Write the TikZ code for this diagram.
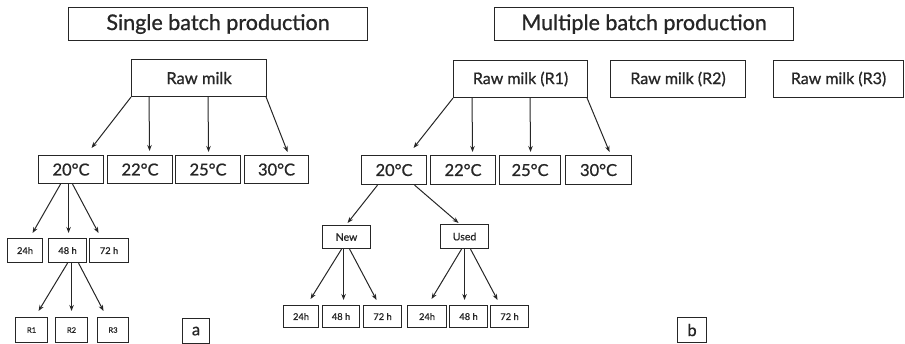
\documentclass[tikz,border=0pt]{standalone}
\usepackage{fontspec}
\setmainfont{Lato}[FakeBold=0.9]
\usetikzlibrary{arrows.meta,calc}
\begin{document}
\begin{tikzpicture}[x=1pt,y=-1pt,
  box/.style={draw=black!85,line width=1.1pt,inner sep=0pt,anchor=north west,text=black!85},
  arr/.style={line width=1pt,draw=black!85,-{Stealth[length=6pt,width=4.5pt]}},
  ttl/.style={font=\fontsize{21.5}{23}\selectfont},
  big/.style={font=\fontsize{16.5}{18}\selectfont},
  mid/.style={font=\fontsize{16}{17}\selectfont},
  sml/.style={font=\fontsize{9.3}{10}\selectfont},
  tiny/.style={font=\fontsize{7.5}{8}\selectfont},
  nu/.style={font=\fontsize{10.5}{11}\selectfont}
]
\useasboundingbox (0,0) rectangle (905,344);
\newcommand{\bx}[7]{\node[box,#6,minimum width=#4-#2,minimum height=#5-#3] (#1) at (#2,#3) {#7};}
% panel a
\bx{t1}{68}{7}{367}{40}{ttl}{Single batch production}
\bx{rm}{131}{59}{266}{96}{big}{Raw milk}
\bx{a20}{38}{155}{103}{183}{big}{20°C}
\bx{a22}{107}{155}{172}{183}{big}{22°C}
\bx{a25}{175}{155}{240}{183}{big}{25°C}
\bx{a30}{244}{155}{308}{183}{big}{30°C}
\bx{a24}{7}{238}{42}{262}{sml}{24h}
\bx{a48}{48}{238}{86}{262}{sml}{48 h}
\bx{a72}{89}{238}{128}{262}{sml}{72 h}
\bx{aR1}{15}{317}{47}{342}{tiny}{R1}
\bx{aR2}{55}{317}{87}{342}{tiny}{R2}
\bx{aR3}{97}{317}{128}{342}{tiny}{R3}
\bx{la}{182}{318}{209}{343}{big}{a}
% panel b
\bx{t2}{494}{7}{793}{40}{ttl}{Multiple batch production}
\bx{r1}{453}{60}{587}{97}{mid}{Raw milk (R1)}
\bx{r2}{610}{60}{745}{97}{mid}{Raw milk (R2)}
\bx{r3}{773}{60}{903}{97}{mid}{Raw milk (R3)}
\bx{b20}{361}{155}{426}{184}{big}{20°C}
\bx{b22}{430}{155}{495}{184}{big}{22°C}
\bx{b25}{499}{155}{560}{184}{big}{25°C}
\bx{b30}{565}{155}{631}{184}{big}{30°C}
\bx{nw}{322}{225}{370}{248}{nu}{New}
\bx{us}{440}{224}{488}{248}{nu}{Used}
\bx{n24}{283}{305}{318}{327}{sml}{24h}
\bx{n48}{322}{305}{359}{327}{sml}{48 h}
\bx{n72}{363}{305}{401}{327}{sml}{72 h}
\bx{u24}{407}{305}{446}{327}{sml}{24h}
\bx{u48}{449}{305}{487}{327}{sml}{48 h}
\bx{u72}{490}{305}{528}{327}{sml}{72 h}
\bx{lb}{677}{317}{706}{342}{big}{b}
% arrows panel a
\draw[arr] (rm.south west) -- ($(a20.north)+(20.5pt,7pt)$);
\draw[arr] ($(rm.south west)+(18pt,0)$) -- ($(a22.north)+(9.5pt,4pt)$);
\draw[arr] ($(rm.south west)+(77pt,0)$) -- ($(a25.north)+(0.5pt,3pt)$);
\draw[arr] ($(rm.south east)+(-1pt,0)$) -- ($(a30.north)+(11pt,3pt)$);
\draw[arr] ($(a20.south)+(-10.5pt,0)$) -- ($(a24.north)+(7.5pt,5pt)$);
\draw[arr] ($(a20.south)+(-2.5pt,0)$) -- ($(a48.north)+(1pt,5pt)$);
\draw[arr] ($(a20.south)+(1.5pt,0)$) -- ($(a72.north)+(-10.5pt,5pt)$);
\draw[arr] ($(a48.south)+(0pt,0)$) -- ($(aR1.north)+(7pt,6pt)$);
\draw[arr] ($(a48.south)+(4pt,0)$) -- ($(aR2.north)+(0pt,6pt)$);
\draw[arr] ($(a48.south)+(11pt,0)$) -- ($(aR3.north)+(-9.5pt,6pt)$);
% arrows panel b
\draw[arr] (r1.south west) -- ($(b20.north)+(19.5pt,7pt)$);
\draw[arr] ($(r1.south west)+(19pt,0)$) -- ($(b22.north)+(9.5pt,3pt)$);
\draw[arr] ($(r1.south west)+(77pt,0)$) -- ($(b25.north)+(0.5pt,3pt)$);
\draw[arr] ($(r1.south east)+(-1pt,0)$) -- ($(b30.north)+(11pt,3pt)$);
\draw[arr] ($(b20.south)+(-16.5pt,0)$) -- ($(nw.north)+(1pt,2pt)$);
\draw[arr] ($(b20.south)+(20.5pt,0)$) -- ($(us.north)+(-6pt,1pt)$);
\draw[arr] ($(nw.south)+(-5pt,0)$) -- ($(n24.north)+(9.5pt,6pt)$);
\draw[arr] ($(nw.south)+(-3pt,0)$) -- ($(n48.north)+(2.5pt,5pt)$);
\draw[arr] ($(nw.south)+(3pt,0)$) -- ($(n72.north)+(-6pt,5pt)$);
\draw[arr] ($(us.south)+(-3pt,0)$) -- ($(u24.north)+(4.5pt,6pt)$);
\draw[arr] ($(us.south)+(0pt,0)$) -- ($(u48.north)+(-4pt,5pt)$);
\draw[arr] ($(us.south)+(6pt,0)$) -- ($(u72.north)+(-12pt,5pt)$);
\end{tikzpicture}
\end{document}
